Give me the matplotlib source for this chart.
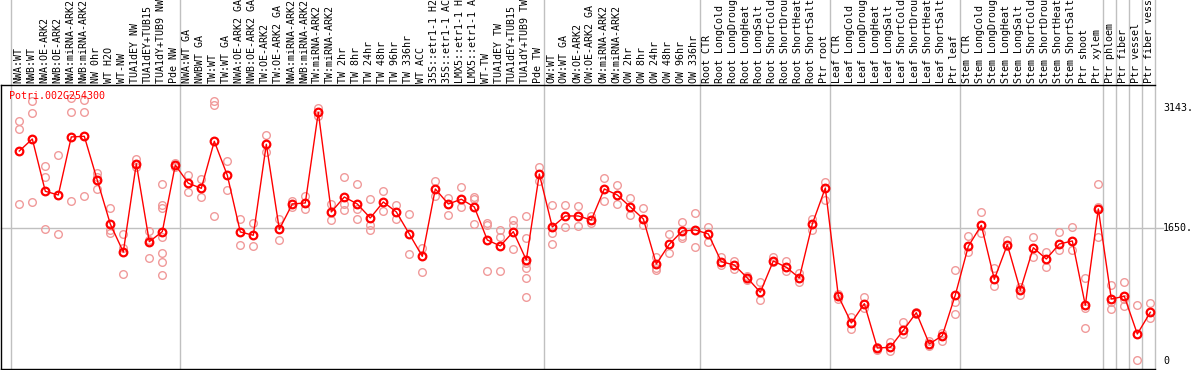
import numpy as np
import matplotlib.pyplot as plt
import matplotlib.transforms as mtransforms

gene = "Potri.002G254300"

# sample labels, one list per group (groups are split by grey lines)
labels_nw = ["NWA:WT", "NWB:WT", "NWA:OE-ARK2", "NWB:OE-ARK2", "NWA:miRNA-ARK2",
             "NWB:miRNA-ARK2", "NW 0hr", "WT H2O", "WT-NW", "TUA1dEY NW",
             "TUA1dEY+TUB15", "TUA1dY+TUB9 NW", "Pde NW"]
labels_tw = ["NWA:WT GA", "NWBWT GA", "TW:WT", "TW:WT GA", "NWA:OE-ARK2 GA",
             "NWB:OE-ARK2 GA", "TW:OE-ARK2", "TW:OE-ARK2 GA", "NWA:miRNA-ARK2",
             "NWB:miRNA-ARK2", "TW:miRNA-ARK2", "TW:miRNA-ARK2", "TW 2hr", "TW 8hr",
             "TW 24hr", "TW 48hr", "TW 96hr", "TW 336hr", "WT ACC", "35S::etr1-1 H2",
             "35S::etr1-1 AC", "LMX5::etr1-1 H", "LMX5::etr1-1 A", "WT-TW",
             "TUA1dEY TW", "TUA1dEY+TUB15", "TUA1dY+TUB9 TW", "Pde TW"]
labels_ow = ["OW:WT", "OW:WT GA", "OW:OE-ARK2", "OW:OE-ARK2 GA", "OW:miRNA-ARK2",
             "OW:miRNA-ARK2", "OW 2hr", "OW 8hr", "OW 24hr", "OW 48hr", "OW 96hr",
             "OW 336hr"]
labels_root = ["Root CTR", "Root LongCold", "Root LongDroug", "Root LongHeat",
               "Root LongSalt", "Root ShortCold", "Root ShortDrou", "Root ShortHeat",
               "Root ShortSalt", "Ptr root"]
labels_leaf = ["Leaf CTR", "Leaf LongCold", "Leaf LongDroug", "Leaf LongHeat",
               "Leaf LongSalt", "Leaf ShortCold", "Leaf ShortDrou", "Leaf ShortHeat",
               "Leaf ShortSalt", "Ptr leaf"]
labels_stem = ["Stem CTR", "Stem LongCold", "Stem LongDroug", "Stem LongHeat",
               "Stem LongSalt", "Stem ShortCold", "Stem ShortDrou", "Stem ShortHeat",
               "Stem ShortSalt", "Ptr shoot", "Ptr xylem"]
labels_ptr = ["Ptr phloem", "Ptr fiber", "Ptr vessel", "Ptr fiber vess"]

# mean expression per sample
mean_nw = [2607, 2757, 2106, 2060, 2782, 2790, 2243, 1699, 1351, 2449, 1479, 1604, 2433]
mean_tw = [2206, 2143, 2728, 2305, 1600, 1559, 2691, 1633, 1948, 1961, 3089, 1849,
           2035, 1948, 1774, 1973, 1849, 1575, 1297, 2135, 1948, 2007, 1911, 1500,
           1426, 1604, 1251, 2321]
mean_ow = [1662, 1799, 1799, 1749, 2135, 2060, 1911, 1762, 1202, 1447, 1612, 1625]
mean_root = [1575, 1230, 1189, 1028, 850, 1239, 1161, 1028, 1699, 2147]
mean_leaf = [804, 468, 708, 157, 165, 377, 596, 207, 310, 816]
mean_stem = [1422, 1683, 1011, 1442, 875, 1404, 1264, 1450, 1488, 688, 1886]
mean_ptr = [766, 800, 331, 601]

# replicates per sample
reps_nw = [[2981, 2881, 1948], [3229, 3084, 1973], [2421, 2284, 1637], [2558, 1571],
           [3263, 3089, 1982], [3242, 3089, 2048], [2337, 2288, 2135],
           [1895, 1621, 1584], [1571, 1397, 1077], [2504, 2412],
           [1612, 1500, 1273], [2197, 1936, 1895, 1541, 1339, 1223, 1061],
           [2462, 2412]]
reps_tw = [[2309, 2101], [2255, 2039], [3229, 3180, 1800], [2483, 2118], [1758, 1434],
           [1712, 1422], [2803, 2591], [1758, 1500], [1986, 1911], [2048, 1882],
           [3146, 3039], [1948, 1743], [2284, 1948, 1870], [2197, 1882, 1758],
           [2010, 1686, 1625], [2106, 1857], [1936, 1758], [1824, 1327], [1397, 1102],
           [2234, 2048], [2023, 1811], [2156, 1911], [2035, 2010, 1699],
           [1708, 1687, 1120], [1625, 1534, 1120], [1745, 1687, 1388],
           [1803, 1521, 1210, 1156, 1028, 792], [2408, 2234]]
reps_ow = [[1936, 1584, 1450], [1936, 1662], [1929, 1674], [1799, 1712], [2272, 1990],
           [2184, 1948], [2023, 1811], [1898, 1687], [1289, 1152, 1127], [1575, 1339],
           [1724, 1550, 1525], [1839, 1413]]
reps_root = [[1662, 1475], [1293, 1189], [1235, 1140], [1052, 1003], [978, 754],
             [1289, 1227], [1239, 1111], [1093, 978], [1761, 1628], [2218, 1994]]
reps_leaf = [[828, 763], [539, 389], [791, 651], [165, 132], [228, 119], [476, 327],
             [608, 583], [248, 182], [343, 244], [1127, 733, 583]]
reps_stem = [[1546, 1347], [1849, 1587], [1148, 928], [1497, 1429], [919, 816],
             [1534, 1293], [1347, 1168], [1600, 1372], [1658, 1372],
             [1028, 658, 406], [2197, 1911, 1538]]
reps_ptr = [[937, 733, 642], [978, 766, 679], [688, 10], [713, 534]]

groups = [labels_nw, labels_tw, labels_ow, labels_root, labels_leaf, labels_stem,
          [labels_ptr[0]], [labels_ptr[1]], [labels_ptr[2]], [labels_ptr[3]]]
labels = sum(groups, [])
means = mean_nw + mean_tw + mean_ow + mean_root + mean_leaf + mean_stem + mean_ptr
reps = reps_nw + reps_tw + reps_ow + reps_root + reps_leaf + reps_stem + reps_ptr
n = len(labels)
x = np.arange(n)

mono = "DejaVu Sans Mono"
fs = 7.2
pink = "#f09a9a"
grey = "#c0c0c0"

fig = plt.figure(figsize=(11.94, 3.70), dpi=100)
ax = fig.add_axes([1 / 1194, 1 / 370, 1154 / 1194, 284 / 370])
ax.set_xlim(-1.408, 87.36)
ax.set_ylim(-104.5, 3428)

# replicates first, then the line of means on top
for i, r in enumerate(reps):
    ax.plot([i] * len(r), r, "o", mfc="none", mec=pink, ms=5.5, mew=1.0, zorder=2)
ax.plot(x, means, "-", color="red", lw=1, zorder=3)
ax.plot(x, means, "o", mfc="none", mec="red", ms=5.5, mew=1.6, zorder=4)

# grid: one grey line per group border, reaching up through the label area
start = 0
bounds = [0]
for g in groups:
    start += len(g)
    bounds.append(start)
for b in bounds:
    ax.axvline(b - 0.64, 0, 1.31, color=grey, lw=1, clip_on=False, zorder=1)
ax.axhline(1650, 0, 1.007, color=grey, lw=1, clip_on=False, zorder=1)

for s in ["right"]:
    ax.spines[s].set_visible(False)
for s in ["left", "top", "bottom"]:
    ax.spines[s].set_color("black")
    ax.spines[s].set_linewidth(1)
ax.set_xticks([])
ax.set_yticks([])

# rotated sample names above the plot
trans = mtransforms.blended_transform_factory(ax.transData, ax.transAxes)
for i, lab in enumerate(labels):
    ax.text(i - 0.1, 1 + 2 / 284, lab, transform=trans, rotation=90, ha="center",
            va="bottom", fontsize=fs, family=mono, clip_on=False)

# value labels on the right
ytrans = mtransforms.blended_transform_factory(ax.transAxes, ax.transData)
for v, s in [(3143, "3143."), (1650, "1650."), (0, "0")]:
    ax.text(1 + 8 / 1154, v, s, transform=ytrans, ha="left", va="center",
            fontsize=fs, family=mono, clip_on=False)

ax.text(8 / 1154, 1 - 6 / 284, gene, transform=ax.transAxes, color="red",
        ha="left", va="top", fontsize=fs, family=mono)

fig.savefig("out.png", dpi=100)
